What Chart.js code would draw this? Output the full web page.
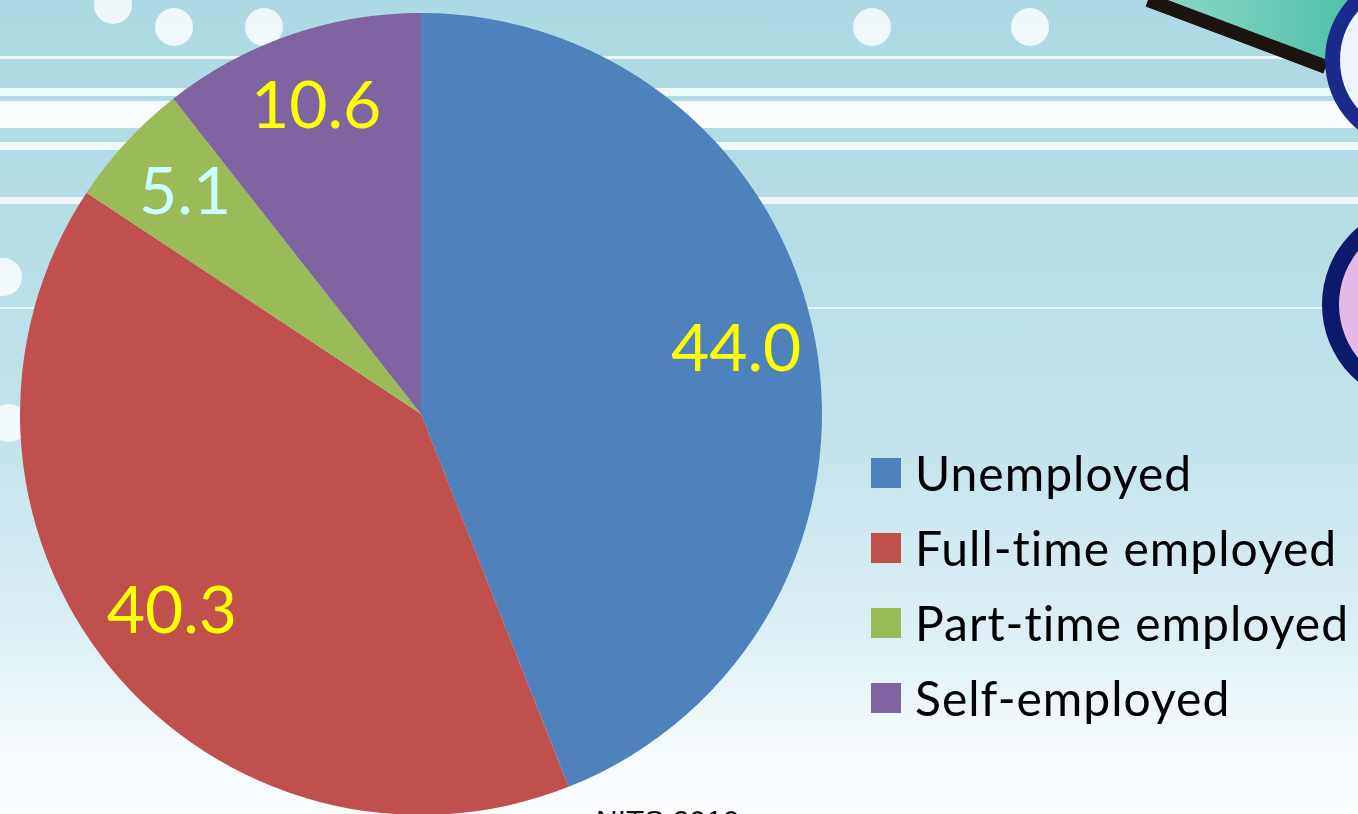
<!DOCTYPE html>
<html lang="en">
<head>
  <meta charset="UTF-8">
  <title>Employment status</title>
  <script src="https://cdn.jsdelivr.net/npm/chart.js@4.4.2/dist/chart.umd.min.js"></script>
  <style>
    html, body {
      margin: 0;
      padding: 0;
      width: 1358px;
      height: 814px;
      overflow: hidden;
    }
    body {
      position: relative;
      font-family: Lato, "Open Sans", sans-serif;
      background: linear-gradient(to bottom, #acd9e3 0%, #b6dee7 30%, #c3e4ec 55%, #dcf0f5 78%, #f6fbfd 92%, #fbfdff 100%);
    }
    .stripe {
      position: absolute;
      left: 0;
      width: 1358px;
      background: rgba(255, 255, 255, 0.8);
    }
    .dot {
      position: absolute;
      width: 38px;
      height: 38px;
      border-radius: 50%;
      background: rgba(255, 255, 255, 0.8);
    }
    .ring {
      position: absolute;
      border-radius: 50%;
      border-style: solid;
      border-color: #1a2a8a;
    }
    .chart-box {
      position: absolute;
      left: 0;
      top: 0;
      width: 1358px;
      height: 830px;
    }
    .legend {
      position: absolute;
      left: 871px;
      top: 435px;
      margin: 0;
      padding: 0;
      list-style: none;
    }
    .legend li {
      display: flex;
      align-items: center;
      height: 75px;
      font-size: 48px;
      letter-spacing: 1px;
      font-variant-ligatures: none;
      color: #000;
      white-space: nowrap;
    }
    .legend .swatch {
      width: 30px;
      height: 30px;
      margin-right: 14px;
      flex: none;
    }
    .source {
      position: absolute;
      left: 596px;
      top: 804px;
      font-family: "Liberation Sans", Arial, sans-serif;
      font-size: 30px;
      color: #111;
    }
  </style>
</head>
<body>
  <!-- background decoration -->
  <div class="stripe" style="top:56px;height:3px"></div>
  <div class="stripe" style="top:88px;height:8px"></div>
  <div class="stripe" style="top:101px;height:27px;background:rgba(255,255,255,0.92)"></div>
  <div class="stripe" style="top:142px;height:8px"></div>
  <div class="stripe" style="top:197px;height:7px"></div>
  <div class="stripe" style="top:307px;height:2px;background:rgba(255,255,255,0.6)"></div>
  <div class="dot" style="left:94px;top:-14px"></div>
  <div class="dot" style="left:155px;top:8px"></div>
  <div class="dot" style="left:245px;top:8px"></div>
  <div class="dot" style="left:853px;top:8px"></div>
  <div class="dot" style="left:1011px;top:8px"></div>
  <div class="dot" style="left:-16px;top:258px"></div>
  <div class="dot" style="left:-10px;top:404px"></div>
  <div style="position:absolute;left:1150px;top:0;width:208px;height:80px;background:linear-gradient(to right,#8fd9c8,#4fc0a8);clip-path:polygon(0 0,100% 0,100% 100%,83% 81%)"></div>
  <div style="position:absolute;left:1148px;top:-7px;width:190px;height:14px;background:#1b1410;transform:rotate(20.6deg);transform-origin:0 50%"></div>
  <div class="ring" style="left:1325px;top:-30px;width:150px;height:150px;border-width:15px;background:#eef2fb"></div>
  <div class="ring" style="left:1322px;top:205px;width:160px;height:165px;border-width:17px;border-color:#0c1a6b;background:#e6b8e6"></div>

  <div class="chart-box">
    <canvas id="pieChart" width="1358" height="830"></canvas>
  </div>
  <ul class="legend" id="legend"></ul>
  <div class="source">NITS 2010</div>

  <script>
    const categories = ['Unemployed', 'Full-time employed', 'Part-time employed', 'Self-employed'];
    const shares = [44.0, 40.3, 5.1, 10.6];
    const sliceColors = ['#4f81bd', '#c0504d', '#9bbb59', '#8064a2'];
    const labelColors = ['#ffff00', '#ffff00', '#ccffff', '#ffff00'];

    // draws the value of each slice inside it
    const sliceLabels = {
      id: 'sliceLabels',
      afterDatasetsDraw(chart) {
        const ctx = chart.ctx;
        const meta = chart.getDatasetMeta(0);
        ctx.save();
        ctx.font = '66px Lato, "Open Sans", sans-serif';
        ctx.textAlign = 'center';
        ctx.textBaseline = 'middle';
        meta.data.forEach((arc, i) => {
          const p = arc.getProps(['x', 'y', 'startAngle', 'endAngle', 'outerRadius'], true);
          const mid = (p.startAngle + p.endAngle) / 2;
          const r = p.outerRadius * 0.8;
          ctx.fillStyle = labelColors[i];
          ctx.fillText(shares[i].toFixed(1), p.x + Math.cos(mid) * r, p.y + Math.sin(mid) * r - 4);
        });
        ctx.restore();
      }
    };

    const pieChart = new Chart(document.getElementById('pieChart'), {
      type: 'pie',
      data: {
        labels: categories,
        datasets: [{
          data: shares,
          backgroundColor: sliceColors,
          borderWidth: 0
        }]
      },
      options: {
        responsive: false,
        animation: false,
        layout: { padding: { left: 20, top: 13, right: 536, bottom: 15 } },
        plugins: {
          legend: { display: false },
          tooltip: { enabled: false }
        }
      },
      plugins: [sliceLabels]
    });

    const legend = document.getElementById('legend');
    categories.forEach((name, i) => {
      const li = document.createElement('li');
      const sw = document.createElement('span');
      sw.className = 'swatch';
      sw.style.background = sliceColors[i];
      li.appendChild(sw);
      li.appendChild(document.createTextNode(name));
      legend.appendChild(li);
    });
  </script>
</body>
</html>
